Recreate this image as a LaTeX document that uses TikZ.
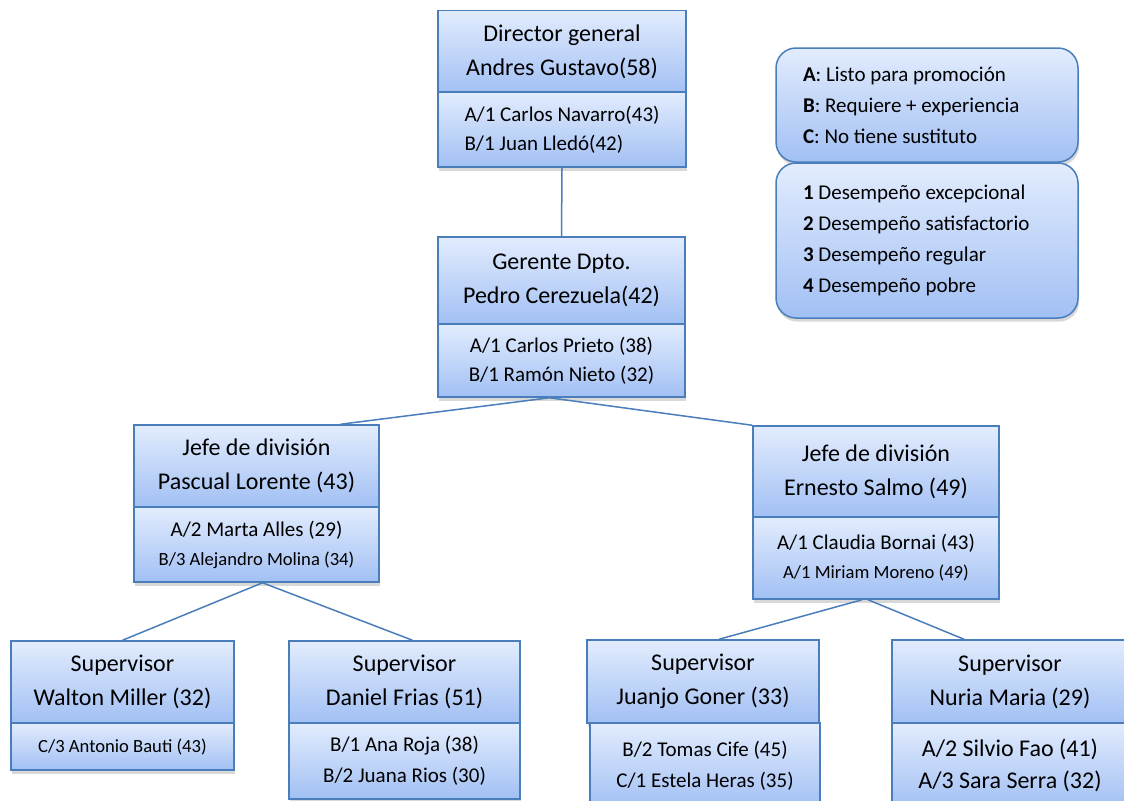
\documentclass[tikz,border=0pt]{standalone}
\usepackage{fontspec}
\setmainfont{Carlito}
\usetikzlibrary{calc,shadows}
\definecolor{bordeColor}{HTML}{4A7EBB}
\definecolor{arribaColor}{HTML}{E2ECFD}
\definecolor{abajoColor}{HTML}{A2C0F4}
\newcommand{\fcargo}{\fontsize{12}{17}\selectfont}
\newcommand{\fsuc}{\fontsize{10.5}{14.5}\selectfont}
\newcommand{\fpeq}{\fontsize{9.3}{12.5}\selectfont}
\newcommand{\fley}{\fontsize{10.5}{15.5}\selectfont}
\tikzset{
	caja/.style={draw=bordeColor, line width=0.75pt, top color=arribaColor, bottom color=abajoColor,
		inner sep=0pt, align=center,
		drop shadow={shadow xshift=0.6pt, shadow yshift=-1.8pt, opacity=0.3}},
	cargo/.style={caja, font=\fcargo},
	suc/.style={caja, font=\fsuc},
	leyenda/.style={caja, rounded corners=10pt, font=\fley, align=flush left, text width=124pt, inner xsep=13.5pt},
	linea/.style={draw=bordeColor, line width=0.75pt}
}

\begin{document}
\begin{tikzpicture}[x=0.5pt, y=-0.5pt]
	\path[use as bounding box, fill=white] (0,0) rectangle (1124,800);
	% director
	\node[cargo, minimum width=124pt, minimum height=41.5pt] (dir) at (562,52) {Director general\\Andres Gustavo(58)};
	\node[suc, minimum width=124pt, minimum height=37.5pt, align=left] (dirsub) at (562,129.5) {A/1 Carlos Navarro(43)\\B/1 Juan Lledó(42)};
	% gerente
	\node[cargo, minimum width=123.5pt, minimum height=43.5pt] (ger) at (561.5,280.5) {Gerente Dpto.\\Pedro Cerezuela(42)};
	\node[suc, minimum width=123.5pt, minimum height=36.5pt] (gersub) at (561.5,360.5) {A/1 Carlos Prieto (38)\\B/1 Ramón Nieto (32)};
	% jefes de division
	\node[cargo, minimum width=122.5pt, minimum height=41pt] (jefeL) at (256.5,466) {Jefe de división\\Pascual Lorente (43)};
	\node[suc, minimum width=122.5pt, minimum height=37.5pt] (jefeLsub) at (256.5,544.5) {A/2 Marta Alles (29)\\{\fpeq B/3 Alejandro Molina (34)}};
	\node[cargo, minimum width=123pt, minimum height=45.5pt] (jefeR) at (876,471.5) {Jefe de división\\Ernesto Salmo (49)};
	\node[suc, minimum width=123pt, minimum height=41pt] (jefeRsub) at (876,558) {A/1 Claudia Bornai (43)\\{\fpeq A/1 Miriam Moreno (49)}};
	% supervisores
	\node[cargo, minimum width=111.5pt, minimum height=41pt] (supA) at (122.5,682) {Supervisor\\Walton Miller (32)};
	\node[suc, minimum width=111.5pt, minimum height=23.5pt, font=\fpeq] (supAsub) at (122.5,746.5) {C/3 Antonio Bauti (43)};
	\node[cargo, minimum width=115.5pt, minimum height=41pt] (supB) at (404.5,682) {Supervisor\\Daniel Frias (51)};
	\node[suc, minimum width=115.5pt, minimum height=38pt, font=\fontsize{10.5}{15.5}\selectfont] (supBsub) at (404.5,761) {B/1 Ana Roja (38)\\B/2 Juana Rios (30)};
	\node[cargo, minimum width=116pt, minimum height=41.5pt] (supC) at (703,681.5) {Supervisor\\Juanjo Goner (33)};
	\node[suc, minimum width=115pt, minimum height=42.5pt, font=\fontsize{10.5}{15.5}\selectfont] (supCsub) at (705,765.5) {B/2 Tomas Cife (45)\\C/1 Estela Heras (35)};
	\node[cargo, minimum width=118pt, minimum height=41.5pt] (supD) at (1010,681.5) {Supervisor\\Nuria Maria (29)};
	\node[suc, minimum width=118pt, minimum height=42.5pt, font=\fontsize{12}{16}\selectfont] (supDsub) at (1010,765.5) {A/2 Silvio Fao (41)\\A/3 Sara Serra (32)};
	% leyenda
	\node[leyenda, minimum height=57pt] (legA) at (927,105) {\textbf{A}: Listo para promoción\\\textbf{B}: Requiere + experiencia\\\textbf{C}: No tiene sustituto};
	\node[leyenda, minimum height=77.5pt] (legB) at (927,240.5) {\textbf{1} Desempeño excepcional\\\textbf{2} Desempeño satisfactorio\\\textbf{3} Desempeño regular\\\textbf{4} Desempeño pobre};
	% conexiones
	\draw[linea] (dirsub.south) -- (ger.north);
	\draw[linea] ([xshift=-6pt]gersub.south) -- ([xshift=42pt]jefeL.north);
	\draw[linea] ([xshift=-6pt]gersub.south) -- (jefeR.north west);
	\draw[linea] ([xshift=3pt]jefeLsub.south) -- (supA.north);
	\draw[linea] ([xshift=3pt]jefeLsub.south) -- ([xshift=4pt]supB.north);
	\draw[linea] ([xshift=-7pt]jefeRsub.south) -- ([xshift=8pt]supC.north);
	\draw[linea] ([xshift=-4pt]jefeRsub.south) -- ([xshift=-23pt]supD.north);
\end{tikzpicture}
\end{document}
